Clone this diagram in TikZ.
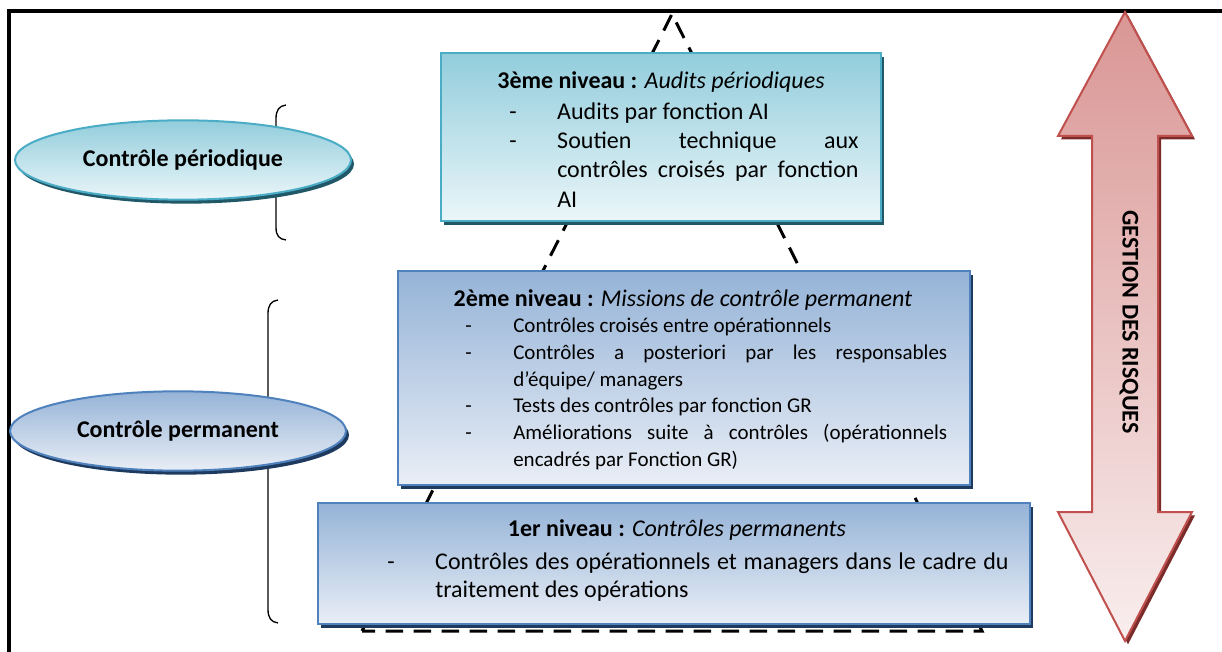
\documentclass[tikz,border=0pt]{standalone}
\usepackage{fontspec}
\setmainfont{Carlito}
\usetikzlibrary{shadows,shapes.geometric}
\definecolor{tealtop}{HTML}{92CDDC}
\definecolor{tealbot}{HTML}{EBF6F9}
\definecolor{tealline}{HTML}{4BACC6}
\definecolor{tealshadow}{HTML}{215868}
\definecolor{bluetop}{HTML}{95B3D7}
\definecolor{bluebot}{HTML}{E9EEF6}
\definecolor{blueline}{HTML}{4F81BD}
\definecolor{blueshadow}{HTML}{1F3A5F}
\definecolor{redtop}{HTML}{D99694}
\definecolor{redbot}{HTML}{F9EEEE}
\definecolor{redline}{HTML}{C0504D}
\definecolor{redshadow}{HTML}{7B2C2A}
\begin{document}
\begin{tikzpicture}[x=0.75pt,y=-0.75pt,
  tealshade/.style={draw=tealline, line width=1.5pt, top color=tealtop, bottom color=tealbot,
    drop shadow={shadow xshift=2.25pt, shadow yshift=-3pt, fill=tealshadow, opacity=1}},
  blueshade/.style={draw=blueline, line width=1.5pt, top color=bluetop, bottom color=bluebot,
    drop shadow={shadow xshift=2.25pt, shadow yshift=-3pt, fill=blueshadow, opacity=1}},
  levelbox/.style={rectangle, inner sep=0pt},
  oval/.style={ellipse, inner sep=0pt, minimum width=252pt, minimum height=59.5pt,
    font=\bfseries\fontsize{18}{22}\selectfont},
  header/.style={anchor=base, inner sep=0pt, font=\fontsize{18}{22}\selectfont},
  items/.style={anchor=north west, inner sep=0pt, align=justify},
  tri/.style={line width=2.25pt, dash pattern=on 13pt off 8pt},
  bracket/.style={line width=1pt},
  frameline/.style={line width=2.5pt},
  bigarrow/.style={draw=redline, line width=1.5pt, top color=redtop, bottom color=redbot,
    drop shadow={shadow xshift=2.25pt, shadow yshift=-2.5pt, fill=redshadow, opacity=1}}
]
\useasboundingbox (0,0) rectangle (1222,652);

% frame
\coordinate (fbl) at (9,654);
\coordinate (ftl) at (9,11);
\coordinate (ftr) at (1224,11);
\draw[frameline] (fbl) -- (ftl) -- (ftr);

% dashed pyramid
\coordinate (apex) at (672,14);
\coordinate (bl) at (362,631);
\coordinate (br) at (982,631);
\draw[tri] (bl) -- (apex) -- (br) -- cycle;

% brackets
\coordinate (b1t) at (286,105);
\coordinate (b1b) at (286,240);
\draw[bracket] (b1t) .. controls (279,106) and (276,110) .. (276,119) -- (276,227) .. controls (276,236) and (279,239) .. (b1b);
\coordinate (b2t) at (278,300);
\coordinate (b2b) at (278,623);
\draw[bracket] (b2t) .. controls (271,301) and (268,305) .. (268,314) -- (268,609) .. controls (268,618) and (271,622) .. (b2b);

% ellipses
\node[oval, tealshade] (cp) at (183,160) {Contrôle périodique};
\node[oval, blueshade] (cperm) at (178,431) {Contrôle permanent};

% level boxes
\node[levelbox, tealshade, minimum width=330pt, minimum height=126pt] (l3) at (661,137) {};
\node[levelbox, blueshade, minimum width=429pt, minimum height=160.5pt] (l2) at (684,378) {};
\node[levelbox, blueshade, minimum width=534pt, minimum height=90.75pt] (l1) at (674,563.5) {};

% level 3 text
\node[header] (h3) at (661,89) {\textbf{3ème niveau :} \textit{Audits périodiques}};
\node[items, text width=262pt, font=\fontsize{18}{22}\selectfont] (i3) at (509,98.5)
{\parindent=0pt\tolerance=10000
\hangindent=36pt\hangafter=1\strut\makebox[36pt][l]{-}Audits par fonction AI\par
\hangindent=36pt\hangafter=1\makebox[36pt][l]{-}Soutien technique aux\linebreak contrôles croisés par fonction\linebreak AI\par};

% level 2 text
\node[header] (h2) at (683,307) {\textbf{2ème niveau :} \textit{Missions de contrôle permanent}};
\node[items, text width=361.5pt, font=\fontsize{15.75}{20}\selectfont] (i2) at (465,314)
{\parindent=0pt\tolerance=10000
\hangindent=36pt\hangafter=1\strut\makebox[36pt][l]{-}Contrôles croisés entre opérationnels\par
\hangindent=36pt\hangafter=1\makebox[36pt][l]{-}Contrôles a posteriori par les responsables\linebreak d’équipe/ managers\par
\hangindent=36pt\hangafter=1\makebox[36pt][l]{-}Tests des contrôles par fonction GR\par
\hangindent=36pt\hangafter=1\makebox[36pt][l]{-}Améliorations suite à contrôles (opérationnels\linebreak encadrés par Fonction GR)\par};

% level 1 text
\node[header] (h1) at (677,537) {\textbf{1er niveau :} \textit{Contrôles permanents}};
\node[items, text width=466pt, font=\fontsize{18}{21}\selectfont] (i1) at (387,549.5)
{\parindent=0pt\tolerance=10000
\hangindent=36pt\hangafter=1\strut\makebox[36pt][l]{-}Contrôles des opérationnels et managers dans le cadre du\linebreak traitement des opérations\par};

% risk arrow
\path[bigarrow] (1125,12) -- (1192,136) -- (1158,136) -- (1158,512) -- (1192,512) -- (1125,641)
  -- (1058,512) -- (1092,512) -- (1092,136) -- (1058,136) -- cycle;
\node[rotate=-90, inner sep=0pt, font=\bfseries\fontsize{18}{22}\selectfont] (gr) at (1129,322) {GESTION DES RISQUES};
\end{tikzpicture}
\end{document}
